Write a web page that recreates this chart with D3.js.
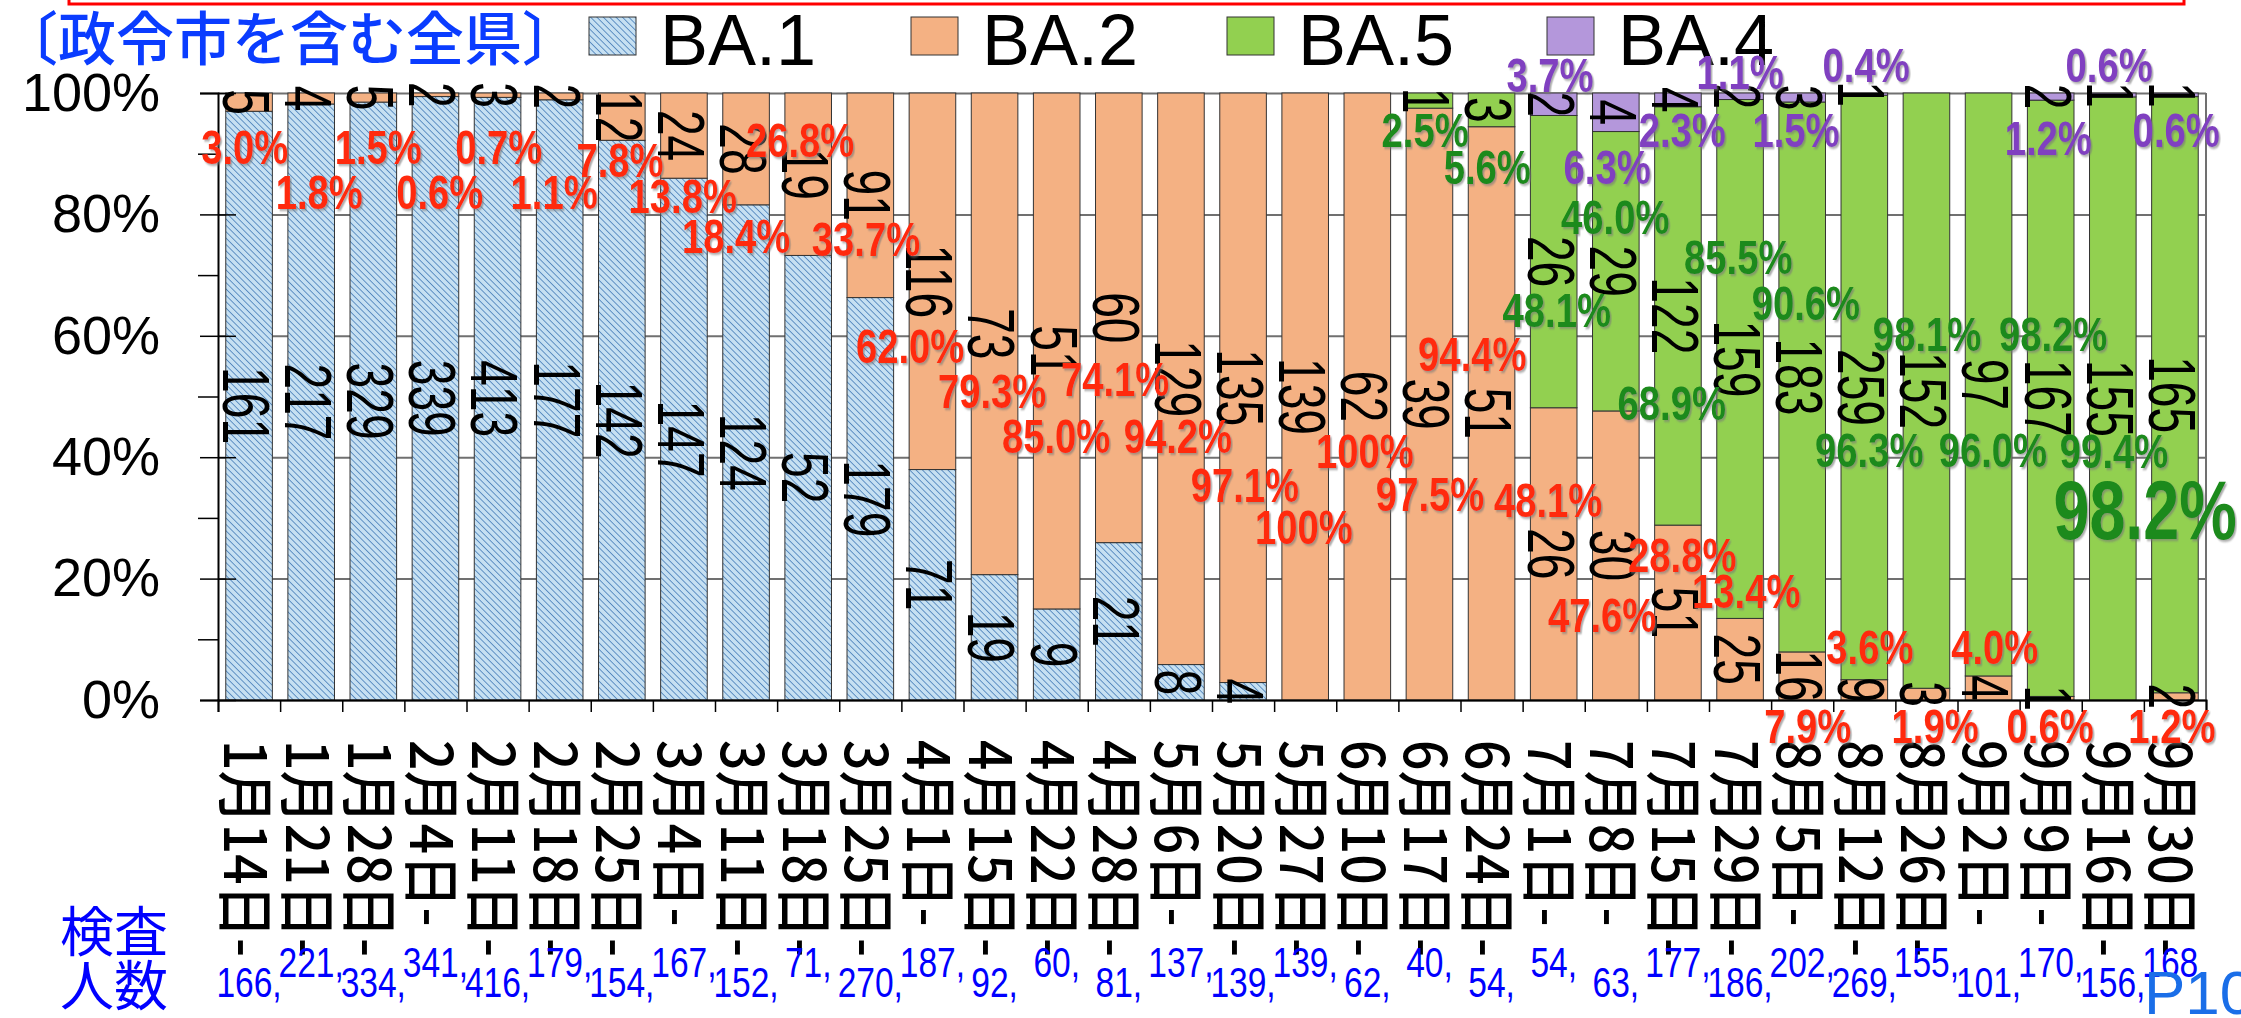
<!DOCTYPE html>
<html>
<head>
<meta charset="utf-8">
<script src="https://cdn.jsdelivr.net/npm/d3@7"></script>
<style>
  body { margin: 0; background: #fff; overflow: hidden; }
  text { font-family: "Liberation Sans", Arial, sans-serif; }
  .jp { font-family: "Noto Sans CJK JP", sans-serif; }
</style>
</head>
<body>
<svg id="chart" width="2241" height="1018"></svg>
<script>
// week start dates (x categories)
var weeks = ["1月14日-","1月21日-","1月28日-","2月4日-","2月11日-","2月18日-","2月25日-","3月4日-",
  "3月11日-","3月18日-","3月25日-","4月1日-","4月15日-","4月22日-","4月28日-","5月6日-",
  "5月20日-","5月27日-","6月10日-","6月17日-","6月24日-","7月1日-","7月8日-","7月15日-",
  "7月29日-","8月5日-","8月12日-","8月26日-","9月2日-","9月9日-","9月16日-","9月30日-"];

// counts per lineage
var ba1 = [161,217,329,339,413,177,142,147,124,52,179,71,19,9,21,8,4,0,0,0,0,0,0,0,0,0,0,0,0,0,0,0];
var ba2 = [5,4,5,2,3,2,12,24,28,19,91,116,73,51,60,129,135,139,62,39,51,26,30,51,25,16,9,3,4,1,0,2];
var ba5 = [0,0,0,0,0,0,0,0,0,0,0,0,0,0,0,0,0,0,0,1,3,26,29,122,159,183,259,152,97,167,155,165];
var ba4 = [0,0,0,0,0,0,0,0,0,0,0,0,0,0,0,0,0,0,0,0,0,2,4,4,2,3,1,0,0,2,1,1];

// 検査人数
var tested = [166,221,334,341,416,179,154,167,152,71,270,187,92,60,81,137,139,139,62,40,54,54,63,177,186,202,269,155,101,170,156,168];

var yTicks = [0,20,40,60,80,100];
var keys = ["BA.1","BA.2","BA.5","BA.4"];

// percentage notes as printed on the slide
var pctBA2 = ["3.0%","1.8%","1.5%","0.6%","0.7%","1.1%","7.8%","13.8%","18.4%","26.8%","33.7%","62.0%","79.3%","85.0%","74.1%","94.2%",
  "97.1%","100%","100%","97.5%","94.4%","48.1%","47.6%","28.8%","13.4%","7.9%","3.6%","1.9%","4.0%","0.6%","1.2%"];
var pctBA5 = ["2.5%","5.6%","48.1%","46.0%","68.9%","85.5%","90.6%","96.3%","98.1%","96.0%","98.2%","99.4%"];
var pctBA4 = ["3.7%","6.3%","2.3%","1.1%","1.5%","0.4%","1.2%","0.6%","0.6%"];
var latestBA5 = "98.2%";

// where the notes sit: [category units from left edge, % on y axis]
var placeBA2 = [[0.43,91.1],[1.63,83.7],[2.58,91.1],[3.57,83.7],[4.52,91.1],[5.41,83.7],[6.47,89],[7.48,83],[8.34,76.5],[9.37,92.3],
  [10.43,76],[11.14,58.3],[12.46,51],[13.49,43.5],[14.44,53],[15.45,43.5],[16.53,35.4],[17.48,28.5],[18.46,41],[19.51,34],
  [20.19,57],[21.41,33],[22.28,14],[23.57,24],[24.6,18],[25.59,-4.3],[26.59,8.7],[27.64,-4.3],[28.6,8.7],[29.49,-4.3],[31.45,-4.3]];
var placeBA5 = [[19.43,94],[20.43,87.8],[21.55,64.3],[22.49,79.6],[23.4,49],[24.47,73],[25.56,65.4],[26.58,41.2],[27.51,60.4],
  [28.57,41.2],[29.54,60.4],[30.52,41]];
var placeBA4 = [[21.44,103],[22.36,87.8],[23.57,94],[24.5,103.5],[25.4,94],[26.53,104.6],[29.46,92.7],[30.44,104.6],[31.52,94]];
var placeLatest = [31.02,31.3];

var fills = {"BA.1":"url(#hatch)","BA.2":"#F4B183","BA.5":"#92D050","BA.4":"#B497DB"};
var noteColor = {"BA.2":"#FF2A10","BA.5":"#1A8A1A","BA.4":"#8040C0"};

var svg = d3.select("#chart");
var plotL = 218, plotR = 2206, plotT = 93, plotB = 700;

var defs = svg.append("defs");
var pat = defs.append("pattern").attr("id","hatch").attr("patternUnits","userSpaceOnUse")
  .attr("width",4.5).attr("height",4.5).attr("patternTransform","rotate(-45)");
pat.append("rect").attr("width",4.5).attr("height",4.5).attr("fill","#c6e0f2");
pat.append("line").attr("x1",0).attr("y1",0).attr("x2",0).attr("y2",4.5).attr("stroke","#3f78b5").attr("stroke-width",1.5);
var sh = defs.append("filter").attr("id","shadow").attr("x","-20%").attr("y","-20%").attr("width","140%").attr("height","140%");
sh.append("feDropShadow").attr("dx",2).attr("dy",2).attr("stdDeviation",1).attr("flood-color","#777").attr("flood-opacity",0.6);

var x = d3.scaleBand().domain(weeks).range([plotL,plotR]).paddingInner(0.25).paddingOuter(0.125);
var xu = d3.scaleLinear().domain([0,weeks.length]).range([plotL,plotR]);
var y = d3.scaleLinear().domain([0,1]).range([plotB,plotT]);

var rows = weeks.map(function(w,i){
  return {week:w, "BA.1":ba1[i], "BA.2":ba2[i], "BA.5":ba5[i], "BA.4":ba4[i]};
});
var stacked = d3.stack().keys(keys).offset(d3.stackOffsetExpand)(rows);

// red frame peeking in at the top
svg.append("rect").attr("x",69).attr("y",-40).attr("width",2115).attr("height",44)
  .attr("fill","none").attr("stroke","#ff0000").attr("stroke-width",3);

// gridlines
svg.append("g").attr("transform","translate("+plotL+",0)")
  .call(d3.axisLeft(y).tickValues(yTicks.map(function(v){return v/100;})).tickSize(-(plotR-plotL)).tickFormat(""))
  .call(function(g){ g.select(".domain").remove(); })
  .selectAll("line").attr("stroke","#707070").attr("stroke-width",2);
svg.append("line").attr("x1",plotR).attr("x2",plotR).attr("y1",plotT).attr("y2",plotB)
  .attr("stroke","#707070").attr("stroke-width",2);

// bars
svg.append("g").selectAll("g").data(stacked).join("g")
  .attr("fill", function(s){ return fills[s.key]; })
  .selectAll("rect").data(function(s){ return s; }).join("rect")
  .filter(function(d){ return d[1] - d[0] > 0; })
  .attr("x", function(d){ return x(d.data.week); })
  .attr("y", function(d){ return y(d[1]); })
  .attr("width", x.bandwidth())
  .attr("height", function(d){ return y(d[0]) - y(d[1]); })
  .attr("stroke","#333").attr("stroke-width",1);

// counts inside segments, rotated
stacked.forEach(function(s){
  s.forEach(function(d){
    var v = d.data[s.key];
    if (!v) return;
    var cx = x(d.data.week) + x.bandwidth()/2 - 3;
    var cy = y((d[0]+d[1])/2);
    svg.append("text")
      .attr("transform","translate("+cx+","+cy+") rotate(90) scale(0.7,1)")
      .attr("text-anchor","middle").attr("dominant-baseline","central")
      .attr("font-size",66).attr("fill","#000").text(v);
  });
});

// y axis
var fmt = function(d){ return Math.round(d*100) + "%"; };
var yAx = svg.append("g").attr("transform","translate("+plotL+",0)")
  .call(d3.axisLeft(y).tickValues(yTicks.map(function(v){return v/100;})).tickSize(18).tickPadding(40).tickFormat(fmt));
yAx.selectAll("text").attr("font-size",54).attr("fill","#000").style("font-family","'Liberation Sans', Arial");
yAx.selectAll("line").attr("stroke","#000").attr("stroke-width",1.5);
yAx.select(".domain").attr("stroke","#000").attr("stroke-width",2);
svg.append("g").attr("transform","translate("+plotL+",0)")
  .call(d3.axisRight(y).tickValues(yTicks.map(function(v){return v/100;})).tickSize(18).tickFormat(""))
  .call(function(g){ g.select(".domain").remove(); g.selectAll("line").attr("stroke","#000").attr("stroke-width",1.5); });
svg.append("g").attr("transform","translate("+plotL+",0)")
  .call(d3.axisLeft(y).tickValues([0.1,0.3,0.5,0.7,0.9]).tickSize(20).tickFormat(""))
  .call(function(g){ g.select(".domain").remove(); g.selectAll("line").attr("stroke","#000").attr("stroke-width",1.5); });

// x axis with ticks between weeks
svg.append("g").attr("transform","translate(0,"+plotB+")")
  .call(d3.axisBottom(xu).tickValues(d3.range(weeks.length+1)).tickSize(12).tickFormat(""))
  .call(function(g){ g.select(".domain").attr("stroke","#000").attr("stroke-width",2);
                     g.selectAll("line").attr("stroke","#000").attr("stroke-width",1.5); });

svg.append("g").selectAll("text").data(weeks).join("text")
  .attr("class","jp")
  .attr("transform", function(w){ return "translate("+(x(w)+x.bandwidth()/2)+",740) rotate(90) scale(0.92,1)"; })
  .attr("dominant-baseline","central").attr("font-size",58).attr("font-weight",500).attr("fill","#000")
  .text(function(w){ return w; });

// 検査人数 row
svg.append("g").selectAll("text").data(tested).join("text")
  .attr("transform", function(v,i){ return "translate("+(x(weeks[i])+x.bandwidth()/2)+","+(i%2 ? 977 : 997)+") scale(0.78,1)"; })
  .attr("text-anchor","middle").attr("font-size",43).attr("fill","#0000ff")
  .text(function(v){ return v + ","; });
svg.append("text").attr("class","jp").attr("x",60).attr("y",952).attr("font-size",54).attr("fill","#0000ff").text("検査");
svg.append("text").attr("class","jp").attr("x",60).attr("y",1006).attr("font-size",54).attr("fill","#0000ff").text("人数");
svg.append("text").attr("x",2144).attr("y",1014).attr("font-size",62).attr("fill","#1a6ee8").text("P10");

// title and legend
svg.append("text").attr("class","jp").attr("x",0).attr("y",60).attr("font-size",58).attr("font-weight",500)
  .attr("fill","#0a3cff").text("〔政令市を含む全県〕");
var legX = [589,911,1227,1547];
keys.forEach(function(k,i){
  svg.append("rect").attr("x",legX[i]).attr("y",17).attr("width",47).attr("height",38)
    .attr("fill",fills[k]).attr("stroke","#333").attr("stroke-width",1);
  svg.append("text").attr("x",legX[i]+71).attr("y",65).attr("font-size",72).attr("fill","#000").text(k);
});

// percentage notes
function note(txt, p, color, size, sx){
  svg.append("text")
    .attr("transform","translate("+xu(p[0])+","+y(p[1]/100)+") scale("+sx+",1)")
    .attr("text-anchor","middle").attr("dominant-baseline","central")
    .attr("font-size",size).attr("font-weight","bold").attr("fill",color)
    .attr("filter","url(#shadow)").text(txt);
}
pctBA2.forEach(function(t,i){ note(t, placeBA2[i], noteColor["BA.2"], 49, 0.78); });
pctBA5.forEach(function(t,i){ note(t, placeBA5[i], noteColor["BA.5"], 49, 0.78); });
pctBA4.forEach(function(t,i){ note(t, placeBA4[i], noteColor["BA.4"], 49, 0.78); });
note(latestBA5, placeLatest, noteColor["BA.5"], 84, 0.77);
</script>
</body>
</html>
